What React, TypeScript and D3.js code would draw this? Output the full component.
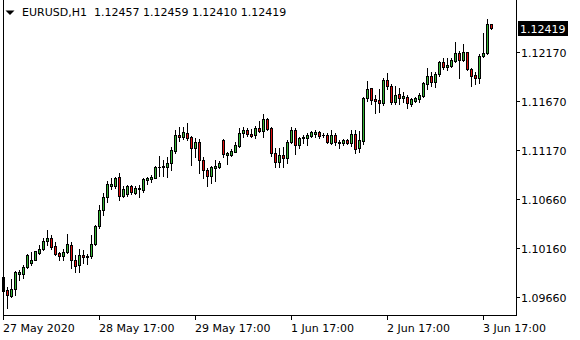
import React from 'react';
import * as d3 from 'd3';

const symbol = 'EURUSD,H1';

const opens = [
  1.09862, 1.09729, 1.09667, 1.09739, 1.09888, 1.09888, 1.0997, 1.10006, 1.10042, 1.10109,
  1.10155, 1.10227, 1.10258, 1.10181, 1.10109, 1.10073, 1.10114, 1.10191, 1.10037, 1.09985,
  1.10088, 1.10068, 1.10073, 1.10206, 1.10381, 1.1055, 1.10679, 1.10797, 1.10797, 1.10889,
  1.10699, 1.1071, 1.10797, 1.1073, 1.10761, 1.10751, 1.10858, 1.10869, 1.10884, 1.10992,
  1.10987, 1.10987, 1.11038, 1.11161, 1.11321, 1.11295, 1.11346, 1.11295, 1.11184, 1.11244,
  1.11059, 1.10966, 1.109, 1.10985, 1.10987, 1.11269, 1.11115, 1.11115, 1.11149, 1.11211,
  1.11338, 1.11372, 1.11326, 1.11321, 1.11389, 1.11365, 1.11485, 1.11389, 1.11133, 1.11046,
  1.11115, 1.11087, 1.11246, 1.11372, 1.11218, 1.11295, 1.11287, 1.11313, 1.11331, 1.11354,
  1.11321, 1.11321, 1.11235, 1.11321, 1.11235, 1.11235, 1.11269, 1.11235, 1.11331, 1.11184,
  1.11264, 1.11697, 1.118, 1.1169, 1.1168, 1.11646, 1.11885, 1.11827, 1.11656, 1.11739,
  1.11697, 1.11714, 1.11636, 1.1167, 1.1169, 1.11724, 1.11841, 1.11927, 1.11868, 1.11944,
  1.12067, 1.12022, 1.12032, 1.12084, 1.1216, 1.12091, 1.1217, 1.11998, 1.11937, 1.11909,
  1.12135, 1.1216, 1.12457,
];

const highs = [
  1.1016, 1.0976, 1.09842, 1.09924, 1.09934, 1.09985, 1.10098, 1.10124, 1.10134, 1.10186,
  1.10263, 1.10345, 1.10294, 1.10217, 1.10124, 1.10145, 1.10309, 1.10222, 1.10088, 1.1015,
  1.1014, 1.10098, 1.10294, 1.10396, 1.10602, 1.10725, 1.10848, 1.10884, 1.10894, 1.1093,
  1.10797, 1.10812, 1.10812, 1.10792, 1.10807, 1.10884, 1.10894, 1.1091, 1.11002, 1.11105,
  1.11069, 1.11095, 1.11197, 1.11377, 1.11398, 1.11406, 1.11444, 1.1131, 1.11287, 1.11276,
  1.1109, 1.10985, 1.11005, 1.11064, 1.11054, 1.11276, 1.11149, 1.11174, 1.11252, 1.11389,
  1.114, 1.11389, 1.11382, 1.11416, 1.11464, 1.11533, 1.11498, 1.11406, 1.11184, 1.1119,
  1.112, 1.11269, 1.11406, 1.11396, 1.11303, 1.11321, 1.11338, 1.11365, 1.11372, 1.11365,
  1.11338, 1.11338, 1.11372, 1.11338, 1.11269, 1.11276, 1.11276, 1.11372, 1.11372, 1.11362,
  1.11711, 1.11875, 1.11806, 1.11731, 1.11793, 1.11903, 1.11954, 1.11841, 1.11827, 1.11806,
  1.11759, 1.11731, 1.11697, 1.11714, 1.11749, 1.11868, 1.12012, 1.11964, 1.11964, 1.12081,
  1.12108, 1.12114, 1.12114, 1.12273, 1.12183, 1.12252, 1.12173, 1.12012, 1.11964, 1.12149,
  1.12365, 1.12512, 1.12459,
];

const lows = [
  1.09698, 1.09544, 1.09657, 1.09677, 1.09831, 1.09852, 1.09955, 1.09985, 1.10037, 1.10098,
  1.1014, 1.10191, 1.1015, 1.10088, 1.10042, 1.10042, 1.10104, 1.09955, 1.09914, 1.09914,
  1.10006, 1.09996, 1.10057, 1.10191, 1.10365, 1.10494, 1.10632, 1.10771, 1.10776, 1.10653,
  1.10684, 1.10694, 1.10715, 1.10715, 1.10689, 1.1074, 1.10817, 1.10838, 1.10874, 1.109,
  1.109, 1.10889, 1.10961, 1.11136, 1.11254, 1.1128, 1.11274, 1.11012, 1.11098, 1.10933,
  1.10876, 1.10797, 1.10824, 1.10848, 1.10979, 1.11092, 1.11023, 1.11105, 1.11143, 1.112,
  1.11297, 1.11313, 1.11303, 1.11293, 1.11348, 1.11303, 1.11372, 1.11108, 1.10995, 1.10995,
  1.10995, 1.1103, 1.11235, 1.11122, 1.11184, 1.11235, 1.11218, 1.11303, 1.11303, 1.11293,
  1.11303, 1.11235, 1.11225, 1.11218, 1.11184, 1.11218, 1.11225, 1.11208, 1.11139, 1.11149,
  1.11228, 1.1167, 1.11636, 1.11543, 1.1156, 1.11629, 1.11793, 1.11636, 1.11636, 1.11636,
  1.11656, 1.11601, 1.11621, 1.11656, 1.11656, 1.11714, 1.11793, 1.11827, 1.11817, 1.1193,
  1.11998, 1.11988, 1.12022, 1.12073, 1.11903, 1.12081, 1.11988, 1.11827, 1.11841, 1.11852,
  1.12125, 1.12149, 1.1241,
];

const closes = [
  1.09718, 1.09677, 1.09739, 1.09914, 1.09914, 1.09965, 1.10088, 1.10042, 1.10129, 1.10155,
  1.10232, 1.10263, 1.10175, 1.10098, 1.10073, 1.10114, 1.10201, 1.10037, 1.0998, 1.10088,
  1.10068, 1.10073, 1.10206, 1.10386, 1.1055, 1.10679, 1.10817, 1.10817, 1.10884, 1.10694,
  1.10761, 1.10797, 1.10735, 1.10776, 1.10781, 1.10869, 1.10879, 1.10889, 1.10992, 1.10997,
  1.11002, 1.11038, 1.11167, 1.11321, 1.11295, 1.11348, 1.11287, 1.11184, 1.11246, 1.11059,
  1.10966, 1.109, 1.10989, 1.11002, 1.1103, 1.11122, 1.11131, 1.11159, 1.11218, 1.11338,
  1.11372, 1.11328, 1.11315, 1.11389, 1.11365, 1.11485, 1.11382, 1.11133, 1.11046, 1.11115,
  1.11087, 1.11246, 1.11372, 1.11218, 1.11287, 1.11293, 1.11321, 1.11354, 1.11348, 1.11313,
  1.11317, 1.11246, 1.11321, 1.11252, 1.11252, 1.11269, 1.11238, 1.11331, 1.11172, 1.11269,
  1.11697, 1.11793, 1.1168, 1.1167, 1.11646, 1.11885, 1.11827, 1.11656, 1.11731, 1.11697,
  1.11724, 1.11646, 1.11687, 1.11704, 1.11731, 1.11852, 1.11927, 1.11868, 1.11944, 1.12067,
  1.12022, 1.12039, 1.12091, 1.1216, 1.12091, 1.1217, 1.11998, 1.1193, 1.11909, 1.12135,
  1.1216, 1.12457, 1.12419,
];

const yTickValues = [1.1217, 1.1167, 1.1117, 1.1066, 1.1016, 1.0966];
const yTickLabels = ['1.12170', '1.11670', '1.11170', '1.10660', '1.10160', '1.09660'];
const xTickIndex = [0, 24, 48, 72, 96, 120];
const xTickLabels = ['27 May 2020', '28 May 17:00', '29 May 17:00', '1 Jun 17:00', '2 Jun 17:00', '3 Jun 17:00'];

const FONT = '"DejaVu Sans", Verdana, sans-serif';
const UP = '#35b535';
const DOWN = '#e01010';

export default function App() {
  const W = 580;
  const H = 340;
  const n = closes.length;
  const x = d3.scaleLinear().domain([0, n - 1]).range([3, 3 + 4 * (n - 1)]);
  const y = d3.scaleLinear().domain([1.0966, 1.1217]).range([296.7, 52.3]);

  const plotRight = 516;
  const plotBottom = 315;

  const candles = closes.map((c, i) => {
    const o = opens[i];
    const cx = Math.round(x(i));
    const yh = Math.round(y(highs[i]));
    const yl = Math.round(y(lows[i]));
    const yt = Math.round(y(Math.max(o, c)));
    const yb = Math.round(y(Math.min(o, c)));
    const up = c >= o;
    return (
      <g key={i}>
        <line x1={cx + 0.5} x2={cx + 0.5} y1={yh} y2={yl + 1} stroke="#000" strokeWidth={1} />
        {yb - yt >= 1 ? (
          <rect x={cx - 0.5} y={yt + 0.5} width={2} height={yb - yt} fill={up ? UP : DOWN} stroke="#000" strokeWidth={1} />
        ) : (
          <line x1={cx - 1} x2={cx + 2} y1={yt + 0.5} y2={yt + 0.5} stroke="#000" strokeWidth={1} />
        )}
      </g>
    );
  });

  const last = n - 1;
  const lastY = Math.round(y(closes[last]));
  const header = `${symbol}  ${opens[last].toFixed(5)} ${highs[last].toFixed(5)} ${lows[last].toFixed(5)} ${closes[last].toFixed(5)}`;

  return (
    <svg width={W} height={H} style={{ position: 'absolute', left: 0, top: 0, background: '#fff' }} shapeRendering="crispEdges">
      <rect x={0} y={0} width={W} height={H} fill="#fff" />
      {candles}
      {/* frame */}
      <line x1={3.5} x2={3.5} y1={0} y2={plotBottom + 1} stroke="#000" />
      <line x1={3} x2={plotRight + 1} y1={plotBottom + 0.5} y2={plotBottom + 0.5} stroke="#000" />
      <line x1={plotRight + 0.5} x2={plotRight + 0.5} y1={0} y2={plotBottom + 1} stroke="#000" />
      {/* header */}
      <path d="M5.5,10.5 L14.5,10.5 L10,15 Z" fill="#000" shapeRendering="auto" />
      <text x={22} y={16} fontFamily={FONT} fontSize={11} fill="#000" style={{ whiteSpace: 'pre' }} xmlSpace="preserve">
        {header}
      </text>
      {/* y axis */}
      {yTickValues.map((v, i) => {
        const ty = Math.round(y(v));
        return (
          <g key={i}>
            <line x1={plotRight + 1} x2={plotRight + 4} y1={ty + 0.5} y2={ty + 0.5} stroke="#000" />
            <text x={521} y={ty + 4.5} fontFamily={FONT} fontSize={11} fill="#000">
              {yTickLabels[i]}
            </text>
          </g>
        );
      })}
      <rect x={518} y={lastY - 7} width={50} height={15} fill="#000" />
      <text x={520} y={lastY + 4.5} fontFamily={FONT} fontSize={11} fill="#fff">
        {closes[last].toFixed(5)}
      </text>
      {/* x axis */}
      {xTickIndex.map((idx, i) => {
        const tx = Math.round(x(idx));
        return (
          <g key={i}>
            <line x1={tx + 0.5} x2={tx + 0.5} y1={plotBottom + 1} y2={plotBottom + 5} stroke="#000" />
            <text x={tx} y={332} fontFamily={FONT} fontSize={11} fill="#000">
              {xTickLabels[i]}
            </text>
          </g>
        );
      })}
    </svg>
  );
}
